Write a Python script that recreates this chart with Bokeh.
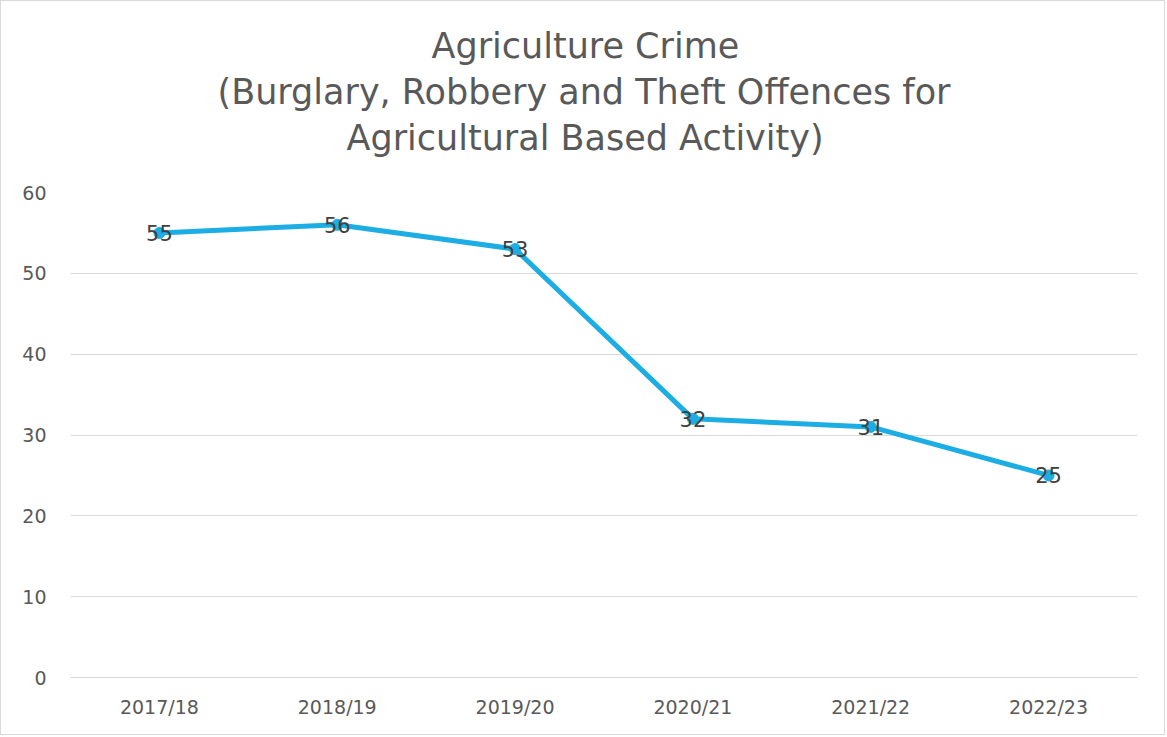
from bokeh.plotting import figure
from bokeh.models import Title, Range1d, FactorRange, ColumnDataSource
from bokeh.embed import file_html
from bokeh.resources import INLINE
from bokeh.core.properties import value

categories = ["2017/18", "2018/19", "2019/20", "2020/21", "2021/22", "2022/23"]
offences = [55, 56, 53, 32, 31, 25]
y_ticks = [0, 10, 20, 30, 40, 50, 60]
title_lines = [
    "Agriculture Crime",
    "(Burglary, Robbery and Theft Offences for",
    "Agricultural Based Activity)",
]

FONT = "DejaVu Sans"
LINE_COLOR = "#1CADE4"

src = ColumnDataSource(dict(x=categories, y=offences, lbl=[str(v) for v in offences]))

p = figure(
    width=1165, height=735,
    x_range=FactorRange(*categories, range_padding=0),
    y_range=Range1d(0, 60),
    output_backend="svg", toolbar_location=None,
    min_border_left=69, min_border_right=29, min_border_bottom=59, min_border_top=191,
)
p.styles = {"border": "1px solid #d9d9d9"}
p.outline_line_color = None
p.background_fill_color = "white"
p.border_fill_color = "white"

# spacer between the title block and the plot frame
p.add_layout(Title(text=" ", text_font_size="1px", standoff=30), "above")

# left offsets (px from frame left) so the lines centre on the chart area, not the plot frame
title_offsets = [361, 147, 276]
for t, off in reversed(list(zip(title_lines, title_offsets))):
    p.add_layout(Title(text=t, align="left", offset=off, standoff=4,
                       text_font_size="35px", text_color="#595959",
                       text_font=FONT, text_font_style="normal"), "above")

p.xgrid.grid_line_color = None
p.ygrid.grid_line_color = "#d9d9d9"
p.ygrid.grid_line_width = 1
p.yaxis.ticker = y_ticks
p.yaxis.axis_line_color = None
p.yaxis.major_tick_line_color = None
p.yaxis.minor_tick_line_color = None
p.yaxis.major_label_text_font = FONT
p.yaxis.major_label_text_font_size = "19px"
p.yaxis.major_label_text_color = "#595959"
p.yaxis.major_label_standoff = 18

p.xaxis.axis_line_color = "#d9d9d9"
p.xaxis.major_tick_line_color = None
p.xaxis.minor_tick_line_color = None
p.xaxis.major_label_text_font = FONT
p.xaxis.major_label_text_font_size = "19px"
p.xaxis.major_label_text_color = "#595959"
p.xaxis.major_label_standoff = 12

p.line("x", "y", source=src, line_color=LINE_COLOR, line_width=5)
p.scatter("x", "y", source=src, size=11, fill_color=LINE_COLOR, line_color=LINE_COLOR)
p.text("x", "y", text="lbl", source=src, text_align="center", text_baseline="middle",
       text_font=value(FONT), text_font_size="21px", text_color="#404040")

open("out.html", "w").write(file_html(p, INLINE))
